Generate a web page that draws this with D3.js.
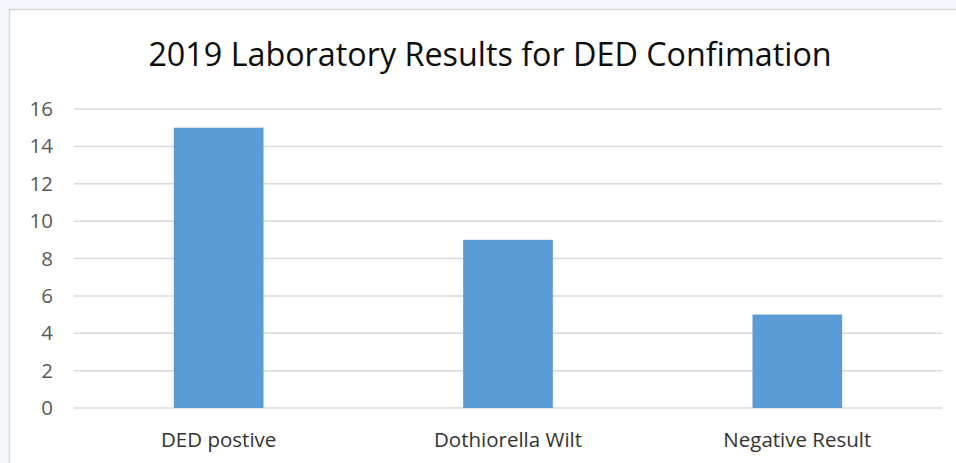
<!DOCTYPE html>
<html>
<head>
<meta charset="utf-8">
<script src="https://cdn.jsdelivr.net/npm/d3@7"></script>
<style>
  html, body { margin: 0; padding: 0; background: #f4f7fb; }
  svg { display: block; }
  text { font-family: "Open Sans", "Liberation Sans", sans-serif; }
</style>
</head>
<body>
<svg id="chart" width="956" height="463"></svg>
<script>
// chart data
const categories = ["DED postive", "Dothiorella Wilt", "Negative Result"];
const counts = [15, 9, 5];
const yTicks = [0, 2, 4, 6, 8, 10, 12, 14, 16];
const title = "2019 Laboratory Results for DED Confimation";

const W = 956, H = 463;
const margin = { top: 109, right: 14, bottom: 55, left: 74 };

const svg = d3.select("#chart");

// chart area box (extends past right/bottom edges)
svg.append("rect")
   .attr("x", 9.5).attr("y", 9.5)
   .attr("width", W + 20).attr("height", H + 20)
   .attr("fill", "#ffffff")
   .attr("stroke", "#d9d9d9")
   .attr("stroke-width", 1.5);

const x = d3.scaleBand()
   .domain(categories)
   .range([margin.left, W - margin.right])
   .paddingInner(0.69)
   .paddingOuter(0.345);

const y = d3.scaleLinear()
   .domain([0, 16])
   .range([H - margin.bottom, margin.top]);

// gridlines
svg.append("g")
   .selectAll("line")
   .data(yTicks)
   .enter()
   .append("line")
   .attr("x1", margin.left)
   .attr("x2", W - margin.right)
   .attr("y1", d => y(d))
   .attr("y2", d => y(d))
   .attr("stroke", "#d9d9d9")
   .attr("stroke-width", 1.5);

// y axis labels
const yAxis = svg.append("g")
   .attr("transform", `translate(${margin.left},0)`)
   .call(d3.axisLeft(y).tickValues(yTicks).tickSize(0).tickPadding(21));
yAxis.select(".domain").remove();
yAxis.selectAll("text")
   .attr("fill", "#595959")
   .style("font-size", "20.5px");

// bars
svg.append("g")
   .selectAll("rect")
   .data(counts)
   .enter()
   .append("rect")
   .attr("x", (d, i) => x(categories[i]))
   .attr("y", d => y(d))
   .attr("width", x.bandwidth())
   .attr("height", d => y(0) - y(d))
   .attr("fill", "#5b9bd5");

// x axis labels
const xAxis = svg.append("g")
   .attr("transform", `translate(0,${y(0)})`)
   .call(d3.axisBottom(x).tickSize(0).tickPadding(24));
xAxis.select(".domain").remove();
xAxis.selectAll("text")
   .attr("fill", "#333333")
   .style("font-size", "20.5px");

// title
svg.append("text")
   .attr("x", 490)
   .attr("y", 66)
   .attr("text-anchor", "middle")
   .attr("fill", "#0d0d0d")
   .style("font-size", "32.3px")
   .text(title);
</script>
</body>
</html>
